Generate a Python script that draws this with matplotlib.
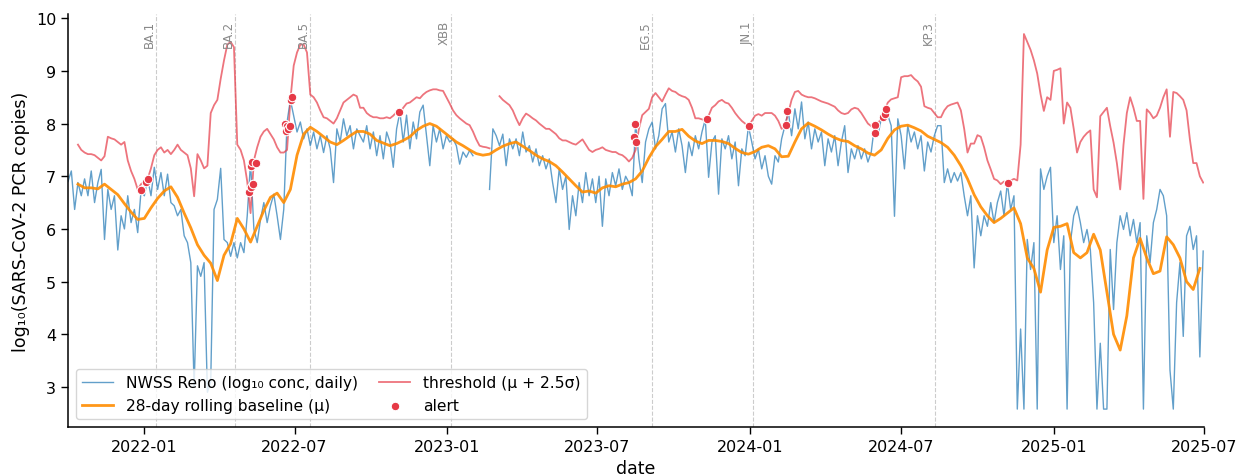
import numpy as np
import pandas as pd
import matplotlib
matplotlib.use("Agg")
import matplotlib.pyplot as plt
import matplotlib.dates as mdates

nan = np.nan

# ---- daily NWSS Reno series (read every 4 days) ----
conc_start = "2021-10-01"
conc_step = "4D"
conc = [
    6.9, 7.1, 6.37, 6.88, 6.63, 6.95, 6.63, 7.1, 6.5, 6.88,
    7.13, 5.8, 6.75, 6.37, 6.63, 5.6, 6.25, 6.0, 6.63, 6.12,
    6.37, 5.93, 6.72, 6.63, 6.95, 6.63, 7.17, 6.75, 7.07, 6.63,
    7.04, 6.5, 6.44, 6.25, 6.37, 5.87, 5.74, 5.36, 3.0, 5.3,
    5.1, 5.36, 2.9, 3.1, 6.37, 6.56, 7.15, 5.8, 5.74, 5.48,
    5.74, 5.45, 5.74, 5.55, 6.25, 7.27, 6.0, 5.74, 6.18, 6.5,
    6.12, 6.44, 6.66, 6.25, 5.8, 6.37, 8.03, 8.45, 8.15, 7.84,
    8.03, 7.71, 7.9, 7.58, 7.84, 7.52, 7.77, 7.45, 7.77, 7.52,
    6.88, 7.9, 7.65, 8.09, 7.77, 7.96, 7.52, 7.9, 7.77, 7.65,
    7.96, 7.52, 7.84, 7.39, 7.77, 7.33, 7.84, 7.65, 7.17, 7.9,
    8.22, 7.65, 8.16, 7.52, 8.03, 7.71, 8.22, 8.35, 7.77, 7.2,
    7.96, 7.65, 7.9, 7.52, 7.77, 7.65, 7.71, 7.58, 7.23, 7.46,
    7.36, 7.49, 7.39, nan, nan, nan, nan, 6.75, 7.9, 7.77,
    7.58, 7.8, 7.2, 7.71, 7.52, 7.71, 7.39, 7.84, 7.46, 7.58,
    7.27, 7.52, 7.2, 7.39, 7.14, 7.33, 6.88, 6.5, 7.14, 6.75,
    7.0, 5.99, 6.63, 6.25, 6.88, 6.5, 7.07, 6.63, 6.95, 6.5,
    7.0, 6.05, 6.95, 6.63, 7.07, 6.82, 7.14, 6.75, 7.0, 6.88,
    6.63, 8.0, 7.33, 6.88, 7.65, 7.9, 8.03, 7.52, 7.77, 8.28,
    8.38, 7.65, 7.84, 7.46, 7.9, 7.58, 7.07, 7.65, 7.39, 7.77,
    7.52, 7.84, 8.08, 6.98, 7.65, 7.77, 6.66, 7.71, 7.52, 7.77,
    7.33, 7.65, 6.82, 7.52, 7.39, 7.95, 7.65, 7.33, 7.52, 7.14,
    7.39, 7.0, 6.85, 7.39, 7.27, 7.71, 7.96, 8.23, 7.77, 8.28,
    7.9, 8.41, 7.71, 8.03, 7.52, 7.9, 7.65, 7.84, 7.2, 7.71,
    7.46, 7.77, 7.2, 7.65, 7.96, 7.07, 7.52, 7.33, 7.58, 7.33,
    7.52, 7.27, 7.46, 7.98, 7.77, 8.09, 8.22, 8.16, 7.96, 6.24,
    8.09, 7.77, 7.14, 7.96, 7.65, 7.84, 7.52, 7.77, 7.1, 7.65,
    7.46, 7.77, 7.96, 7.96, 6.88, 7.14, 6.88, 7.07, 6.91, 7.07,
    6.63, 6.25, 6.63, 5.26, 6.25, 5.87, 6.25, 6.05, 6.5, 6.12,
    6.5, 6.72, 6.25, 6.88, 6.37, 6.63, 2.58, 4.1, 2.58, 5.8,
    5.23, 5.74, 2.58, 7.14, 6.75, 7.0, 7.17, 5.74, 6.25, 5.23,
    5.87, 2.58, 5.74, 6.25, 6.43, 6.12, 5.74, 5.99, 5.61, 4.6,
    2.58, 3.83, 2.58, 2.58, 5.61, 4.47, 5.74, 6.25, 5.99, 6.31,
    5.87, 6.18, 5.74, 6.12, 2.58, 5.87, 5.36, 6.12, 6.37, 6.75,
    6.63, 6.25, 3.32, 2.58, 4.6, 5.36, 3.96, 5.87, 6.05, 5.61,
    5.87, 3.57, 5.58,
]

# ---- threshold (mu + 2.5 sigma), same 4-day dates ----
threshold = [
    nan, nan, nan, 7.6, 7.5, 7.45, 7.42, 7.42, 7.4, 7.35,
    7.3, 7.38, 7.75, 7.72, 7.7, 7.65, 7.6, 7.65, 7.3, 7.1,
    6.95, 6.75, 6.85, 6.9, 6.95, 7.15, 7.4, 7.5, 7.55, 7.45,
    7.5, 7.42, 7.5, 7.6, 7.5, 7.45, 7.4, 7.15, 6.62, 7.42,
    7.3, 7.15, 7.2, 8.2, 8.35, 8.45, 8.85, 9.2, 9.5, 9.55,
    9.45, 7.6, 7.5, 7.3, 6.9, 6.3, 7.3, 7.55, 7.75, 7.85,
    7.9, 7.8, 7.7, 7.55, 7.45, 7.45, 7.5, 8.45, 9.1, 9.35,
    9.5, 9.5, 9.35, 8.55, 8.5, 8.4, 8.25, 8.12, 8.1, 8.05,
    8.0, 8.1, 8.25, 8.4, 8.45, 8.5, 8.55, 8.52, 8.3, 8.3,
    8.2, 8.15, 8.12, 8.12, 8.1, 8.1, 8.12, 8.1, 8.15, 8.22,
    8.2, 8.3, 8.38, 8.4, 8.45, 8.5, 8.48, 8.55, 8.6, 8.63,
    8.65, 8.65, 8.63, 8.62, 8.5, 8.38, 8.25, 8.16, 8.1, 8.05,
    8.0, 7.97, 7.85, 7.7, 7.58, 7.56, 7.55, 7.53, nan, nan,
    8.52, 8.45, 8.4, 8.35, 8.25, 8.1, 7.97, 8.1, 8.19, 8.15,
    8.1, 8.06, 8.0, 7.95, 7.9, 7.9, 7.85, 7.8, 7.72, 7.68,
    7.68, 7.65, 7.62, 7.6, 7.65, 7.7, 7.6, 7.5, 7.46, 7.5,
    7.52, 7.55, 7.5, 7.48, 7.46, 7.46, 7.42, 7.4, 7.35, 7.28,
    7.35, 7.5, 7.9, 8.16, 8.22, 8.28, 8.5, 8.58, 8.5, 8.42,
    8.55, 8.67, 8.62, 8.6, 8.55, 8.52, 8.5, 8.45, 8.3, 8.1,
    8.1, 8.08, 8.06, 8.15, 8.3, 8.35, 8.42, 8.45, 8.4, 8.38,
    8.3, 8.2, 8.12, 8.05, 8.0, 7.95, 8.05, 8.15, 8.18, 8.15,
    8.2, 8.2, 8.2, 8.15, 8.05, 7.9, 7.95, 8.2, 8.45, 8.6,
    8.62, 8.55, 8.52, 8.5, 8.5, 8.48, 8.45, 8.42, 8.4, 8.38,
    8.35, 8.32, 8.25, 8.2, 8.18, 8.2, 8.27, 8.3, 8.28, 8.2,
    8.1, 8.0, 7.95, 7.93, 8.0, 8.1, 8.25, 8.4, 8.46, 8.48,
    8.5, 8.88, 8.9, 8.9, 8.92, 8.85, 8.8, 8.7, 8.33, 8.3,
    8.28, 8.2, 8.12, 8.12, 8.25, 8.33, 8.36, 8.38, 8.4, 8.25,
    7.9, 7.45, 7.62, 7.62, 7.78, 7.75, 7.55, 7.3, 7.13, 6.95,
    6.92, 6.85, 6.9, 6.88, 6.92, 6.95, 6.92, 7.6, 9.7, 9.55,
    9.4, 9.2, 8.95, 8.56, 8.24, 8.5, 8.45, 9.0, 9.02, 9.05,
    8.0, 8.4, 8.3, 7.9, 7.45, 7.65, 7.75, 7.82, 7.87, 6.75,
    6.6, 8.14, 8.22, 8.3, 7.95, 7.64, 7.25, 6.75, 7.6, 8.2,
    8.5, 8.3, 8.05, 8.05, 6.57, 8.27, 8.2, 8.1, 8.15, 8.3,
    8.5, 8.65, 7.75, 8.6, 8.58, 8.52, 8.45, 8.25, 7.7, 7.25,
    7.25, 7.0, 6.88,
]

# ---- 28-day rolling baseline (read every 8 days) ----
baseline_start = "2021-10-13"
baseline_step = "8D"
baseline = [
    6.85, 6.78, 6.78, 6.76, 6.85, 6.75, 6.65, 6.48, 6.32, 6.18,
    6.2, 6.4, 6.58, 6.72, 6.8, 6.6, 6.3, 6.02, 5.7, 5.5,
    5.35, 5.02, 5.5, 5.72, 6.2, 6.0, 5.75, 6.05, 6.35, 6.6,
    6.68, 6.5, 6.75, 7.4, 7.8, 7.93, 7.85, 7.75, 7.65, 7.6,
    7.68, 7.77, 7.85, 7.85, 7.8, 7.68, 7.63, 7.58, 7.62, 7.68,
    7.75, 7.87, 7.95, 8.0, 7.95, 7.85, 7.75, 7.65, 7.58, 7.5,
    7.43, 7.4, 7.42, 7.5, 7.57, 7.62, 7.65, 7.57, 7.49, 7.4,
    7.33, 7.28, 7.2, 7.08, 6.95, 6.82, 6.7, 6.72, 6.68, 6.78,
    6.82, 6.8, 6.85, 6.88, 6.95, 7.1, 7.35, 7.56, 7.7, 7.85,
    7.85, 7.89, 7.76, 7.67, 7.62, 7.68, 7.68, 7.66, 7.62, 7.53,
    7.45, 7.42, 7.47, 7.55, 7.58, 7.52, 7.37, 7.38, 7.65, 7.9,
    8.01, 7.95, 7.88, 7.8, 7.73, 7.68, 7.66, 7.58, 7.52, 7.44,
    7.4, 7.5, 7.72, 7.88, 7.95, 7.97, 7.92, 7.86, 7.76, 7.7,
    7.64, 7.55, 7.4, 7.2, 6.95, 6.65, 6.42, 6.25, 6.12, 6.2,
    6.3, 6.4, 6.1, 5.45, 5.25, 4.8, 5.6, 6.03, 6.05, 6.1,
    5.55, 5.45, 5.55, 5.9, 5.6, 4.8, 4.0, 3.7, 4.35, 5.45,
    5.82, 5.45, 5.15, 5.2, 5.85, 5.7, 5.45, 5.0, 4.85, 5.25,
]

# ---- alerts ----
alert_dates = [
    "2021-12-28", "2022-01-03", "2022-01-05",
    "2022-05-07", "2022-05-09", "2022-05-10", "2022-05-11", "2022-05-12", "2022-05-15",
    "2022-06-20", "2022-06-21", "2022-06-22", "2022-06-23", "2022-06-25", "2022-06-27", "2022-06-28",
    "2022-11-04",
    "2023-08-14", "2023-08-15", "2023-08-17",
    "2023-11-10", "2023-12-31",
    "2024-02-13", "2024-02-15",
    "2024-05-30", "2024-05-31", "2024-06-09", "2024-06-11", "2024-06-13",
    "2024-11-07",
]
alert_vals = [
    6.73, 6.9, 6.95,
    6.7, 7.2, 6.8, 7.27, 6.85, 7.25,
    8.0, 7.85, 7.95, 7.9, 7.95, 8.45, 8.5,
    8.22,
    7.75, 8.0, 7.65,
    8.08, 7.95,
    7.97, 8.23,
    7.97, 7.82, 8.12, 8.18, 8.27,
    6.88,
]

# ---- variant markers ----
variant_names = ["BA.1", "BA.2", "BA.5", "XBB", "EG.5", "JN.1", "KP.3"]
variant_dates = ["2022-01-15", "2022-04-20", "2022-07-20", "2023-01-05",
                 "2023-09-05", "2024-01-05", "2024-08-11"]

# ---- build ----
conc_dates = pd.date_range(conc_start, periods=len(conc), freq=conc_step)
base_dates = pd.date_range(baseline_start, periods=len(baseline), freq=baseline_step)

W, H = 1239, 477
fig = plt.figure(figsize=(W / 100, H / 100), dpi=100)
ax = fig.add_axes([68 / W, 1 - 428 / H, (1204 - 68) / W, (428 - 15) / H])

ax.plot(conc_dates, conc, color="#1f77b4", alpha=0.7, lw=1.0,
        label="NWSS Reno (log\u2081\u2080 conc, daily)", zorder=2)
ax.plot(base_dates, baseline, color="#ff8c00", alpha=0.9, lw=2.0,
        label="28-day rolling baseline (\u03bc)", zorder=3)
ax.plot(conc_dates, threshold, color="#e63946", alpha=0.7, lw=1.3,
        label="threshold (\u03bc + 2.5\u03c3)", zorder=2.5)
ax.scatter(pd.to_datetime(alert_dates), alert_vals, s=38, color="#e63946",
           edgecolor="white", linewidth=0.8, zorder=5, label="alert")

for name, d in zip(variant_names, variant_dates):
    dt = pd.Timestamp(d)
    ax.axvline(dt, color="#cccccc", ls="--", lw=0.8, zorder=1)
    ax.text(dt, 0.985, name, rotation=90, ha="right", va="top", fontsize=8.5,
            color="#888888", transform=ax.get_xaxis_transform())

ax.set_xlim(pd.Timestamp("2021-10-01"), pd.Timestamp("2025-07-01"))
ax.set_ylim(2.24, 10.08)
ax.set_yticks([3, 4, 5, 6, 7, 8, 9, 10])

ax.xaxis.set_major_locator(mdates.MonthLocator(bymonth=[1, 7]))
ax.xaxis.set_major_formatter(mdates.DateFormatter("%Y-%m"))

ax.spines["top"].set_visible(False)
ax.spines["right"].set_visible(False)
for s in ("left", "bottom"):
    ax.spines[s].set_linewidth(1.1)
ax.tick_params(labelsize=11.5, length=5, width=1.0)
ax.set_xlabel("date", fontsize=12.5)
ax.set_ylabel("log\u2081\u2080(SARS-CoV-2 PCR copies)", fontsize=12.5)

ax.legend(loc="lower left", ncol=2, fontsize=11.2, frameon=True,
          columnspacing=1.4, handlelength=2.0, borderaxespad=0.5)

fig.savefig("out.png", dpi=100)
